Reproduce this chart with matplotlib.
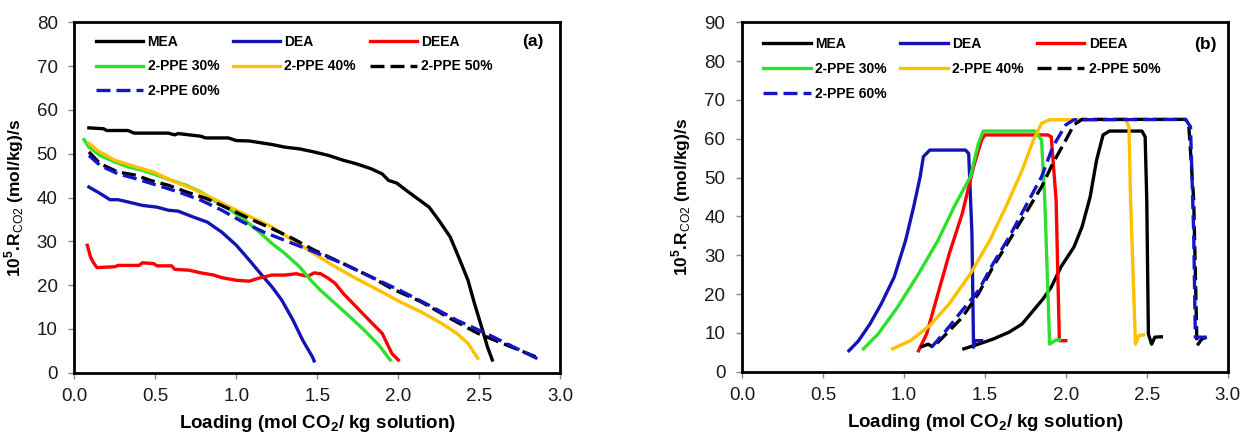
import matplotlib
matplotlib.use("Agg")
import matplotlib.pyplot as plt

plt.rcParams['font.family'] = ['Liberation Sans', 'DejaVu Sans']
plt.rcParams['mathtext.fontset'] = 'custom'
plt.rcParams['mathtext.rm'] = 'Liberation Sans:bold'
plt.rcParams['mathtext.bf'] = 'Liberation Sans:bold'
plt.rcParams['mathtext.sf'] = 'Liberation Sans'

# ---- panel (a): rate vs loading during absorption ----
a_mea_x = [0.09, 0.18, 0.20, 0.33, 0.37, 0.58, 0.62, 0.64, 0.78, 0.81, 0.95, 1.00, 1.08, 1.22, 1.30, 1.39,
           1.48, 1.57, 1.66, 1.74, 1.83, 1.90, 1.94, 1.99, 2.05, 2.12, 2.19, 2.25, 2.32, 2.38, 2.43, 2.47,
           2.52, 2.55, 2.58]
a_mea_y = [55.9, 55.7, 55.3, 55.3, 54.7, 54.7, 54.3, 54.6, 54.0, 53.6, 53.6, 53.0, 52.9, 52.1, 51.5, 51.1,
           50.4, 49.6, 48.5, 47.7, 46.6, 45.4, 43.9, 43.3, 41.6, 39.7, 37.8, 34.8, 31.0, 25.7, 21.1, 15.8,
           9.7, 5.9, 2.9]

a_dea_x = [0.09, 0.16, 0.22, 0.27, 0.33, 0.42, 0.51, 0.58, 0.64, 0.73, 0.82, 0.91, 1.00, 1.08, 1.15, 1.22,
           1.28, 1.35, 1.41, 1.47, 1.48]
a_dea_y = [42.4, 40.9, 39.5, 39.5, 39.0, 38.2, 37.8, 37.1, 36.9, 35.6, 34.4, 32.1, 29.1, 25.7, 22.6, 19.6,
           16.6, 12.0, 7.4, 3.6, 2.7]

a_deea_x = [0.08, 0.10, 0.12, 0.14, 0.25, 0.27, 0.40, 0.42, 0.49, 0.51, 0.60, 0.62, 0.71, 0.78, 0.86, 0.91,
            1.00, 1.08, 1.13, 1.22, 1.30, 1.37, 1.44, 1.48, 1.52, 1.57, 1.61, 1.66, 1.72, 1.77, 1.83, 1.90,
            1.93, 1.96, 2.00]
a_deea_y = [29.1, 26.4, 25.0, 24.0, 24.2, 24.5, 24.5, 25.1, 24.9, 24.4, 24.4, 23.6, 23.4, 22.8, 22.3, 21.7,
            21.1, 20.9, 21.5, 22.3, 22.3, 22.6, 22.0, 22.8, 22.6, 21.5, 20.4, 18.1, 15.8, 13.9, 11.6, 9.0,
            6.7, 4.4, 2.9]

a_p30_x = [0.06, 0.09, 0.16, 0.25, 0.33, 0.42, 0.51, 0.60, 0.69, 0.78, 0.86, 0.95, 1.04, 1.13, 1.22, 1.30,
           1.39, 1.46, 1.52, 1.61, 1.70, 1.79, 1.88, 1.95]
a_p30_y = [53.2, 51.5, 49.6, 48.1, 47.0, 46.2, 45.1, 43.9, 42.8, 41.3, 39.4, 37.5, 35.2, 32.5, 29.5, 27.2,
           24.2, 21.1, 18.8, 15.8, 12.8, 9.7, 6.3, 2.9]

a_p40_x = [0.09, 0.14, 0.25, 0.38, 0.49, 0.60, 0.73, 0.86, 1.00, 1.08, 1.22, 1.35, 1.48, 1.61, 1.74, 1.88,
           2.01, 2.14, 2.27, 2.36, 2.43, 2.49]
a_p40_y = [52.4, 50.8, 48.5, 47.0, 45.8, 43.9, 42.0, 39.7, 37.1, 35.7, 33.3, 30.2, 27.2, 24.2, 21.5, 18.8,
           16.2, 13.9, 11.2, 9.0, 6.7, 3.3]

a_p50_x = [0.09, 0.16, 0.27, 0.38, 0.47, 0.58, 0.69, 0.82, 0.95, 1.08, 1.22, 1.35, 1.48, 1.66, 1.83, 1.96,
           2.14, 2.32, 2.49, 2.67, 2.87]
a_p50_y = [50.4, 47.7, 45.8, 45.1, 43.9, 42.8, 41.3, 39.7, 37.5, 35.2, 32.9, 30.6, 28.0, 24.9, 21.9, 19.2,
           16.2, 12.4, 9.0, 6.3, 3.3]

a_p60_x = [0.09, 0.16, 0.27, 0.38, 0.51, 0.64, 0.78, 0.91, 1.04, 1.17, 1.30, 1.48, 1.66, 1.83, 2.01, 2.19,
           2.36, 2.54, 2.71, 2.87]
a_p60_y = [49.6, 47.3, 45.4, 44.3, 42.8, 41.3, 39.4, 37.1, 34.4, 32.1, 30.2, 27.6, 24.9, 21.9, 18.8, 15.4,
           12.0, 9.0, 5.9, 3.0]

# ---- panel (b): rate vs loading during desorption ----
b_mea_x = [1.37, 1.46, 1.55, 1.65, 1.73, 1.80, 1.86, 1.91, 1.97, 2.05, 2.10, 2.15, 2.19, 2.23, 2.27, 2.47,
           2.49, 2.50, 2.51, 2.53, 2.55, 2.59]
b_mea_y = [5.9, 7.1, 8.4, 10.2, 12.3, 15.8, 18.8, 21.8, 27.0, 32.1, 37.3, 45.0, 54.5, 61.0, 62.0, 62.0,
           60.5, 44.2, 9.7, 7.1, 8.9, 9.0]

b_dea_x = [0.66, 0.72, 0.79, 0.86, 0.94, 1.01, 1.06, 1.10, 1.12, 1.16, 1.38, 1.40, 1.42, 1.43, 1.44, 1.48]
b_dea_y = [5.4, 8.0, 12.3, 17.5, 24.4, 33.8, 42.5, 50.2, 55.4, 57.1, 57.1, 56.2, 35.6, 6.3, 8.0, 8.0]

b_deea_x = [1.09, 1.14, 1.21, 1.28, 1.36, 1.43, 1.48, 1.50, 1.89, 1.91, 1.94, 1.96, 2.00]
b_deea_y = [5.4, 9.7, 20.1, 30.4, 40.7, 52.8, 59.7, 61.0, 61.0, 60.5, 44.2, 8.0, 8.0]

b_p30_x = [0.75, 0.84, 0.96, 1.09, 1.21, 1.31, 1.41, 1.46, 1.49, 1.81, 1.85, 1.87, 1.90, 1.94, 1.96]
b_p30_y = [5.9, 9.7, 16.6, 25.2, 33.8, 42.5, 50.2, 58.8, 62.0, 62.0, 59.7, 44.2, 7.1, 8.2, 8.2]

b_p40_x = [0.93, 1.04, 1.16, 1.28, 1.41, 1.53, 1.63, 1.73, 1.80, 1.85, 1.90, 2.37, 2.39, 2.40, 2.43, 2.45,
           2.48]
b_p40_y = [5.9, 8.0, 11.9, 17.5, 25.2, 33.8, 42.5, 51.9, 59.7, 64.0, 64.9, 65.0, 63.1, 44.2, 7.1, 9.3,
           9.5]

b_p50_x = [1.10, 1.15, 1.18, 1.26, 1.36, 1.46, 1.55, 1.65, 1.75, 1.85, 1.92, 2.00, 2.05, 2.10, 2.74, 2.76,
           2.79, 2.81, 2.84, 2.87]
b_p50_y = [6.3, 7.1, 6.3, 9.7, 14.0, 20.1, 27.0, 33.8, 40.7, 47.6, 53.7, 59.7, 63.6, 65.0, 65.0, 63.1,
           44.2, 6.7, 8.4, 8.9]

b_p60_x = [1.17, 1.26, 1.36, 1.46, 1.55, 1.65, 1.75, 1.85, 1.92, 2.00, 2.05, 2.74, 2.77, 2.79, 2.80, 2.84,
           2.87]
b_p60_y = [6.3, 10.6, 15.8, 20.9, 27.8, 34.7, 42.5, 50.2, 58.0, 63.6, 64.9, 65.0, 63.1, 35.6, 8.9, 8.9,
           8.9]

labels = ['MEA', 'DEA', 'DEEA', '2-PPE 30%', '2-PPE 40%', '2-PPE 50%', '2-PPE 60%']
colors = ['black', '#1414B4', '#FF0000', '#2EE02E', '#FFC000', 'black', '#1414C8']
styles = ['-', '-', '-', '-', '-', '--', '--']

panel_a = [(a_mea_x, a_mea_y), (a_dea_x, a_dea_y), (a_deea_x, a_deea_y), (a_p30_x, a_p30_y),
           (a_p40_x, a_p40_y), (a_p50_x, a_p50_y), (a_p60_x, a_p60_y)]
panel_b = [(b_mea_x, b_mea_y), (b_dea_x, b_dea_y), (b_deea_x, b_deea_y), (b_p30_x, b_p30_y),
           (b_p40_x, b_p40_y), (b_p50_x, b_p50_y), (b_p60_x, b_p60_y)]

fig = plt.figure(figsize=(12.43, 4.34), dpi=100)
ax_a = fig.add_axes([0.0598, 0.1412, 0.391, 0.8074])
ax_b = fig.add_axes([0.597, 0.1435, 0.3907, 0.805])


def draw_panel(ax, series, ymax, tag, tag_xy, leg_anchor):
    handles = []
    for (x, y), lab, c, ls in zip(series, labels, colors, styles):
        ln, = ax.plot(x, y, color=c, lw=2.4, ls=ls, label=lab)
        if ls == '--':
            ln.set_dashes((4.2, 1.8))
        handles.append(ln)

    ax.set_xlim(0, 3.0)
    ax.set_ylim(0, ymax)
    ax.set_xticks([0.0, 0.5, 1.0, 1.5, 2.0, 2.5, 3.0])
    ax.set_xticklabels(['0.0', '0.5', '1.0', '1.5', '2.0', '2.5', '3.0'])
    ax.set_yticks(range(0, ymax + 1, 10))
    ax.tick_params(direction='out', length=4, width=1, color='#888888',
                   labelsize=13.5, labelcolor='#1a1a1a')
    ax.tick_params(axis='y', pad=8)
    ax.tick_params(axis='x', pad=7)
    for s in ax.spines.values():
        s.set_linewidth(2)
        s.set_color('black')

    ax.set_xlabel('Loading (mol CO$_{2}$/ kg solution)', fontsize=13.5, fontweight='bold', labelpad=6)
    ax.set_ylabel(r'10$^{5}$.R$_{\mathsf{CO2}}$ (mol/kg)/s', fontsize=12.5, fontweight='bold', labelpad=8)

    # legend rows read MEA/DEA/DEEA, then 30/40/50 %, then 60 %
    order = [0, 3, 6, 1, 4, 2, 5]
    ax.legend([handles[i] for i in order], [labels[i] for i in order], ncol=3,
              loc='upper left', bbox_to_anchor=leg_anchor, frameon=False,
              prop={'weight': 'bold', 'size': 10}, handlelength=3.4, handletextpad=0.3,
              columnspacing=1.0, labelspacing=0.78, borderpad=0, borderaxespad=0)
    ax.text(tag_xy[0], tag_xy[1], tag, transform=ax.transAxes, ha='center', va='center',
            fontsize=12.5, fontweight='bold')


draw_panel(ax_a, panel_a, 80, '(a)', (0.944, 0.945), (0.045, 0.965))
draw_panel(ax_b, panel_b, 90, '(b)', (0.955, 0.937), (0.044, 0.958))

fig.savefig('out.png', dpi=100)
